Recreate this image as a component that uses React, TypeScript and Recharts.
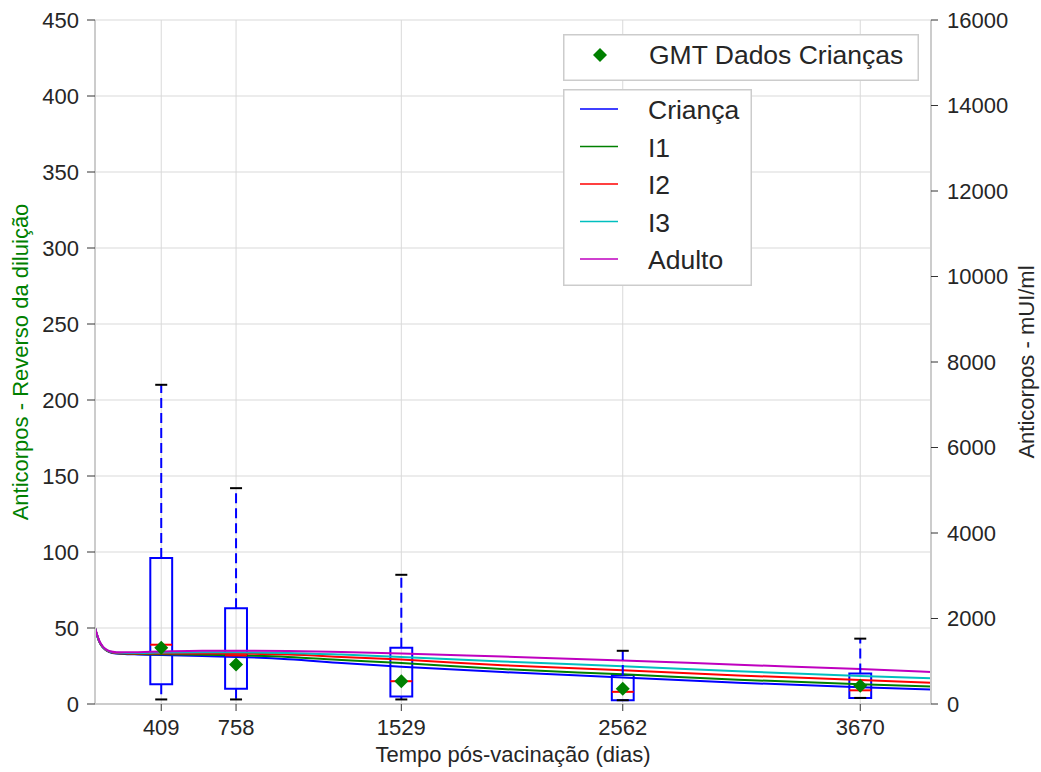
import {
  ComposedChart, Line, Scatter, XAxis, YAxis, CartesianGrid,
  ReferenceArea, ReferenceLine,
} from "recharts"

// model curves (left axis units), sampled along time in days
const DAYS = [100, 110, 120, 135, 150, 170, 200, 250, 300, 409, 600, 758, 1000, 1250, 1529, 2000, 2562, 3100, 3670, 4000]
const CRIANCA = [50, 45, 41, 37.5, 35.5, 34, 33.2, 32.8, 32.6, 32.2, 31.6, 31, 29.5, 27, 24.5, 21, 17.5, 14, 11, 9.5]
const I1 = [50, 45, 41, 37.5, 35.5, 34.1, 33.4, 33, 32.9, 32.7, 32.4, 32, 31, 29, 27, 23, 19.5, 16, 13, 11.5]
const I2 = [50, 45.2, 41.2, 37.7, 35.7, 34.3, 33.6, 33.3, 33.2, 33.2, 33.2, 33.2, 32.5, 31, 29.2, 25.5, 22.2, 18.8, 15.8, 14]
const I3 = [50, 45.3, 41.4, 37.9, 35.9, 34.5, 33.8, 33.6, 33.6, 33.8, 34, 34, 33.6, 32.5, 31, 28, 24.8, 21.5, 18.5, 17]
const ADULTO = [50, 45.5, 41.6, 38.1, 36.1, 34.7, 34.1, 34, 34.1, 34.5, 35, 35, 34.8, 34.2, 33.3, 31.2, 28.7, 25.8, 23, 21]

// boxplots of the children's data
const BOX_DAYS = [409, 758, 1529, 2562, 3670]
const LOW_CAP = [3, 3, 3, 2.5, 4]
const Q1 = [13, 10, 5, 2.5, 4]
const MEDIAN = [39, 32, 15, 8, 9]
const Q3 = [96, 63, 37, 19, 20]
const HIGH_CAP = [210, 142, 85, 35, 43]
const GMT = [37, 26, 15, 10, 12]

const LEFT_TICKS = [0, 50, 100, 150, 200, 250, 300, 350, 400, 450]
const RIGHT_TICKS = [0, 2000, 4000, 6000, 8000, 10000, 12000, 14000, 16000]

const SERIES = [
  { key: "crianca", name: "Criança", color: "#0000ff", values: CRIANCA },
  { key: "i1", name: "I1", color: "#008000", values: I1 },
  { key: "i2", name: "I2", color: "#ff0000", values: I2 },
  { key: "i3", name: "I3", color: "#00bfbf", values: I3 },
  { key: "adulto", name: "Adulto", color: "#bf00bf", values: ADULTO },
]

const curveRows = DAYS.map((day, i) => {
  const row: Record<string, number> = { day }
  SERIES.forEach((s) => { row[s.key] = s.values[i] })
  return row
})
const gmtRows = BOX_DAYS.map((day, i) => ({ day, gmt: GMT[i] }))

const FONT = "'Liberation Sans', Arial, sans-serif"
const TEXT = "#262626"
const SPINE = "#cccccc"
const BOX_HALF = 51
const CAP_HALF = 28

const Diamond = (props: any) => {
  const { cx, cy } = props
  const r = 7
  return (
    <polygon
      points={`${cx},${cy - r} ${cx + r},${cy} ${cx},${cy + r} ${cx - r},${cy}`}
      fill="#008000"
    />
  )
}

function Legends() {
  return (
    <>
      <svg style={{ position: "absolute", left: 563, top: 34 }} width={356} height={47}>
        <rect x={0.75} y={0.75} width={354.5} height={45.5} fill="#fff" stroke={SPINE} strokeWidth={1.5} />
        <polygon points="37,14 44,21 37,28 30,21" fill="#008000" />
        <text x={86} y={29.5} fontSize={26.5} fill={TEXT} fontFamily={FONT}>GMT Dados Crianças</text>
      </svg>
      <svg style={{ position: "absolute", left: 563, top: 89 }} width={189} height={197}>
        <rect x={0.75} y={0.75} width={187.5} height={195.5} fill="#fff" stroke={SPINE} strokeWidth={1.5} />
        {SERIES.map((s, i) => (
          <g key={s.key}>
            <line x1={17} x2={55} y1={20 + i * 37.5} y2={20 + i * 37.5} stroke={s.color} strokeWidth={1.5} />
            <text x={85} y={30 + i * 37.5} fontSize={26.5} fill={TEXT} fontFamily={FONT}>{s.name}</text>
          </g>
        ))}
      </svg>
    </>
  )
}

export default function App() {
  const tick = { fontSize: 22, fill: TEXT, fontFamily: FONT }
  return (
    <div style={{ position: "absolute", left: 0, top: 0, width: 1041, height: 772, background: "#fff", fontFamily: FONT }}>
      <ComposedChart
        width={1041}
        height={772}
        data={curveRows}
        margin={{ top: 20, right: 0, left: 0, bottom: 0 }}
      >
        <CartesianGrid yAxisId="left" stroke="#d9d9d9" strokeWidth={1} />
        <XAxis
          dataKey="day"
          type="number"
          domain={[100, 4000]}
          ticks={BOX_DAYS}
          allowDataOverflow
          height={68}
          tick={tick}
          tickSize={7}
          tickMargin={8}
          tickLine={{ stroke: "#333" }}
          axisLine={{ stroke: SPINE, strokeWidth: 2 }}
          label={{
            value: "Tempo pós-vacinação (dias)",
            position: "insideBottom",
            offset: 10,
            style: { fontSize: 22, fill: TEXT, fontFamily: FONT },
          }}
        />
        <XAxis
          xAxisId="top"
          orientation="top"
          type="number"
          domain={[100, 4000]}
          height={0}
          tick={false}
          tickLine={false}
          axisLine={{ stroke: SPINE, strokeWidth: 2 }}
        />
        <YAxis
          yAxisId="left"
          type="number"
          domain={[0, 450]}
          ticks={LEFT_TICKS}
          allowDataOverflow
          width={95}
          tick={tick}
          tickSize={8}
          tickMargin={8}
          tickLine={{ stroke: "#333" }}
          axisLine={{ stroke: SPINE, strokeWidth: 2 }}
          label={{
            value: "Anticorpos - Reverso da diluição",
            angle: -90,
            position: "insideLeft",
            offset: 20,
            style: { textAnchor: "middle", fontSize: 22, fill: "#008000", fontFamily: FONT },
          }}
        />
        <YAxis
          yAxisId="right"
          orientation="right"
          type="number"
          domain={[0, 16000]}
          ticks={RIGHT_TICKS}
          allowDataOverflow
          width={110}
          tick={tick}
          tickSize={7}
          tickMargin={9}
          tickLine={{ stroke: "#333" }}
          axisLine={{ stroke: SPINE, strokeWidth: 2 }}
          label={{
            value: "Anticorpos - mUI/ml",
            angle: -90,
            position: "insideRight",
            offset: 15,
            style: { textAnchor: "middle", fontSize: 22, fill: TEXT, fontFamily: FONT },
          }}
        />

        {SERIES.map((s) => (
          <Line
            key={s.key}
            yAxisId="left"
            type="monotone"
            dataKey={s.key}
            name={s.name}
            stroke={s.color}
            strokeWidth={2}
            dot={false}
            activeDot={false}
            isAnimationActive={false}
          />
        ))}

        {BOX_DAYS.map((d, i) => (
          <ReferenceArea
            key={`box-${d}`}
            yAxisId="left"
            x1={d - BOX_HALF}
            x2={d + BOX_HALF}
            y1={Q1[i]}
            y2={Q3[i]}
            fill="none"
            fillOpacity={0}
            stroke="#0000ff"
            strokeWidth={2}
            strokeOpacity={1}
          />
        ))}
        {BOX_DAYS.map((d, i) => (
          <ReferenceLine
            key={`wh-${d}`}
            yAxisId="left"
            segment={[{ x: d, y: Q3[i] }, { x: d, y: HIGH_CAP[i] }]}
            stroke="#0000ff"
            strokeWidth={2}
            strokeDasharray="10 5"
          />
        ))}
        {BOX_DAYS.map((d, i) => (
          <ReferenceLine
            key={`wl-${d}`}
            yAxisId="left"
            segment={[{ x: d, y: Q1[i] }, { x: d, y: LOW_CAP[i] }]}
            stroke="#0000ff"
            strokeWidth={2}
            strokeDasharray="10 5"
          />
        ))}
        {BOX_DAYS.map((d, i) => (
          <ReferenceLine
            key={`ch-${d}`}
            yAxisId="left"
            segment={[{ x: d - CAP_HALF, y: HIGH_CAP[i] }, { x: d + CAP_HALF, y: HIGH_CAP[i] }]}
            stroke="#000"
            strokeWidth={2}
          />
        ))}
        {BOX_DAYS.map((d, i) => (
          <ReferenceLine
            key={`cl-${d}`}
            yAxisId="left"
            segment={[{ x: d - CAP_HALF, y: LOW_CAP[i] }, { x: d + CAP_HALF, y: LOW_CAP[i] }]}
            stroke="#000"
            strokeWidth={2}
          />
        ))}
        {BOX_DAYS.map((d, i) => (
          <ReferenceLine
            key={`md-${d}`}
            yAxisId="left"
            segment={[{ x: d - BOX_HALF, y: MEDIAN[i] }, { x: d + BOX_HALF, y: MEDIAN[i] }]}
            stroke="#ff0000"
            strokeWidth={2}
          />
        ))}

        <Scatter
          yAxisId="left"
          data={gmtRows}
          dataKey="gmt"
          name="GMT Dados Crianças"
          shape={Diamond}
          isAnimationActive={false}
        />
      </ComposedChart>
      <Legends />
    </div>
  )
}
